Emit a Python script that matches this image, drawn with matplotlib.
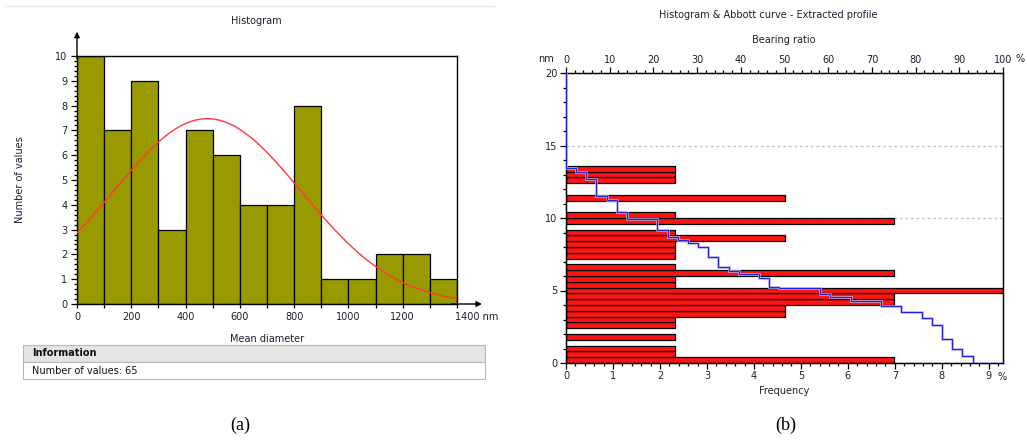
import numpy as np
import matplotlib
matplotlib.use("Agg")
import matplotlib.pyplot as plt
from matplotlib.patches import Rectangle
from matplotlib.lines import Line2D
from matplotlib.ticker import MultipleLocator, FixedLocator

# ---- (a) particle size distribution ----
diam_edges = [0, 100, 200, 300, 400, 500, 600, 700, 800, 900, 1000, 1100, 1200, 1300, 1400]
diam_counts = [10, 7, 9, 3, 7, 6, 4, 4, 8, 1, 1, 2, 2, 1]
fit_mean_nm = 480.0
fit_sd_nm = 347.0
diam_tick_values = [0, 200, 400, 600, 800, 1000, 1200, 1400]
count_tick_values = [0, 1, 2, 3, 4, 5, 6, 7, 8, 9, 10]

# ---- (b) extracted profile heights (nm) ----
profile_heights = [13.44, 13.17, 12.70, 11.53, 11.26, 10.39, 9.93, 9.93, 9.93, 9.18,
                   8.71, 8.49, 8.26, 7.98, 7.30, 6.61, 6.37, 6.13, 6.13, 5.89,
                   5.25, 5.18, 5.18, 5.18, 5.18, 4.75, 4.54, 4.54, 4.31, 4.31,
                   4.31, 3.96, 3.96, 3.55, 3.55, 3.10, 2.64, 1.65, 0.98, 0.50,
                   0.0, 0.0, 0.0]
height_bin_nm = 0.4
height_bins = 34
height_max_nm = 20
freq_tick_values = [0, 1, 2, 3, 4, 5, 6, 7, 8, 9]
bearing_tick_values = [0, 10, 20, 30, 40, 50, 60, 70, 80, 90, 100]
height_tick_values = [0, 5, 10, 15, 20]

W, H = 1027, 443
fig = plt.figure(figsize=(W / 100, H / 100), dpi=100)


def fx(px):
    return px / W


def fy(py):
    return 1 - py / H


TXT = "#1e1e30"
FS = 7

# ================= (a) =================
axL = fig.add_axes([fx(77), fy(304), fx(457) - fx(77), fy(56) - fy(304)])
edges = np.array(diam_edges, dtype=float)
axL.bar(edges[:-1], diam_counts, width=np.diff(edges), align="edge",
        color="#999900", edgecolor="black", linewidth=0.9, zorder=2)

n_vals = sum(diam_counts)
xs = np.linspace(edges[0], edges[-1], 400)
scale = n_vals * (edges[1] - edges[0]) / (fit_sd_nm * np.sqrt(2 * np.pi))
axL.plot(xs, scale * np.exp(-0.5 * ((xs - fit_mean_nm) / fit_sd_nm) ** 2),
         color="#ff3a3a", lw=1.0, zorder=3)

axL.set_xlim(edges[0], edges[-1])
axL.set_ylim(0, 10)
axL.xaxis.set_major_locator(FixedLocator(diam_tick_values))
axL.xaxis.set_minor_locator(MultipleLocator(100))
axL.yaxis.set_major_locator(FixedLocator(count_tick_values))
axL.yaxis.set_minor_locator(MultipleLocator(0.2))
axL.set_xticklabels([str(v) if v != 1400 else "" for v in diam_tick_values])
axL.tick_params(axis="both", which="both", direction="out", labelsize=FS,
                labelcolor=TXT, width=0.9)
axL.tick_params(axis="y", which="major", length=4, pad=3)
axL.tick_params(axis="y", which="minor", length=2)
axL.tick_params(axis="x", which="both", length=3, pad=3)
for sp in axL.spines.values():
    sp.set_linewidth(1.0)
axL.text(1394, -0.051, "1400 nm", transform=axL.get_xaxis_transform(),
         ha="left", va="center", fontsize=FS, color=TXT)

# axis arrows
axL.annotate("", xy=(0, 10.98), xytext=(0, 9.9), annotation_clip=False,
             arrowprops=dict(arrowstyle="-|>", color="black", lw=1.0,
                             mutation_scale=8, shrinkA=0, shrinkB=0))
axL.annotate("", xy=(1492, 0), xytext=(1380, 0), annotation_clip=False,
             arrowprops=dict(arrowstyle="-|>", color="black", lw=1.0,
                             mutation_scale=8, shrinkA=0, shrinkB=0))

fig.text(fx(256), fy(21), "Histogram", ha="center", va="center", fontsize=FS, color=TXT)
fig.text(fx(20), fy(180), "Number of values", ha="center", va="center",
         rotation=90, fontsize=FS, color=TXT)
fig.text(fx(267), fy(339), "Mean diameter", ha="center", va="center", fontsize=FS, color=TXT)

# information box
fig.add_artist(Rectangle((fx(23), fy(362)), fx(485) - fx(23), fy(345) - fy(362),
                         transform=fig.transFigure, facecolor="#e4e4e4",
                         edgecolor="#b8b8b8", lw=0.8))
fig.add_artist(Rectangle((fx(23), fy(379)), fx(485) - fx(23), fy(362) - fy(379),
                         transform=fig.transFigure, facecolor="white",
                         edgecolor="#b8b8b8", lw=0.8))
fig.text(fx(32), fy(353.5), "Information", ha="left", va="center",
         fontsize=FS, fontweight="bold", color="#111")
fig.text(fx(32), fy(371), f"Number of values: {n_vals}", ha="left", va="center",
         fontsize=FS, color="#111")
fig.add_artist(Line2D([fx(5), fx(494)], [fy(6), fy(6)], transform=fig.transFigure,
                      color="#e6e6e6", lw=1.0))

# ================= (b) =================
axR = fig.add_axes([fx(566), fy(363), fx(1003) - fx(566), fy(73) - fy(363)])
h = np.array(profile_heights)
N = len(h)
h_edges = np.arange(height_bins + 1) * height_bin_nm
counts, _ = np.histogram(h, bins=h_edges)
freq = counts / N * 100
nz = counts > 0
axR.barh(h_edges[:-1][nz], freq[nz], height=height_bin_nm, align="edge",
         color="#ff1414", edgecolor="black", linewidth=0.9, zorder=2)
axR.set_xlim(0, freq.max())
axR.set_ylim(0, height_max_nm)
axR.xaxis.set_major_locator(FixedLocator(freq_tick_values))
axR.xaxis.set_minor_locator(MultipleLocator(0.2))
axR.yaxis.set_major_locator(FixedLocator(height_tick_values))
axR.yaxis.set_minor_locator(MultipleLocator(1))
axR.yaxis.grid(True, which="major", linestyle=(0, (2, 2)), color="#c4c4c4", lw=1.0)
axR.set_axisbelow(True)
axR.tick_params(axis="both", which="both", direction="out", labelsize=FS,
                labelcolor=TXT, width=0.9, top=False, right=False)
axR.tick_params(axis="both", which="major", length=4, pad=2)
axR.tick_params(axis="both", which="minor", length=2.5)
for sp in axR.spines.values():
    sp.set_linewidth(1.0)

axT = axR.twiny()
axT.set_xlim(0, 100)
axT.xaxis.set_major_locator(FixedLocator(bearing_tick_values))
axT.xaxis.set_minor_locator(MultipleLocator(2))
axT.tick_params(axis="x", which="both", direction="out", labelsize=FS,
                labelcolor=TXT, width=0.9, pad=2)
axT.tick_params(axis="x", which="major", length=4)
axT.tick_params(axis="x", which="minor", length=2.5)

# Abbott (bearing ratio) curve
hs = np.sort(h)[::-1]
px, py = [0.0], [float(height_max_nm)]
for k, v in enumerate(hs):
    px += [k / N * 100, (k + 1) / N * 100]
    py += [v, v]
axT.plot(px, py, color="#b4b4f2", lw=1.8, zorder=3, solid_joinstyle="miter")
axT.plot(px, py, color="#2020e0", lw=0.8, zorder=4, solid_joinstyle="miter")

fig.text(fx(768), fy(15), "Histogram & Abbott curve - Extracted profile",
         ha="center", va="center", fontsize=FS, color=TXT)
fig.text(fx(784), fy(40), "Bearing ratio", ha="center", va="center", fontsize=FS, color=TXT)
fig.text(fx(784), fy(391), "Frequency", ha="center", va="center", fontsize=FS, color=TXT)
fig.text(fx(546), fy(59), "nm", ha="center", va="center", fontsize=FS, color=TXT)
fig.text(fx(1015), fy(59), "%", ha="left", va="center", fontsize=FS, color=TXT)
fig.text(fx(998), fy(377), "%", ha="left", va="center", fontsize=FS, color=TXT)

# panel captions
fig.text(fx(240), fy(425), "(a)", ha="center", va="center", fontsize=13,
         family="Liberation Serif", color="black")
fig.text(fx(786), fy(425), "(b)", ha="center", va="center", fontsize=13,
         family="Liberation Serif", color="black")

fig.savefig("out.png", dpi=100)
